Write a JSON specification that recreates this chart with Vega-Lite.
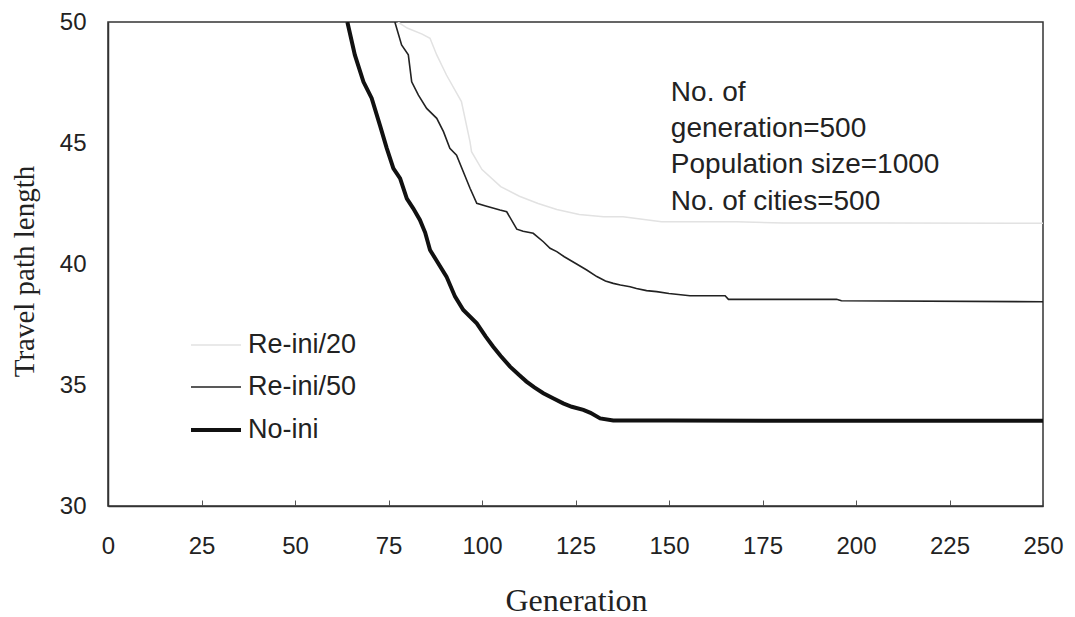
{
  "$schema": "https://vega.github.io/schema/vega-lite/v6.json",
  "width": 935,
  "height": 484,
  "autosize": "none",
  "padding": {"left": 108, "top": 22, "right": 32, "bottom": 111},
  "background": "#ffffff",
  "config": {
    "view": {"stroke": "#333333", "strokeWidth": 1.5},
    "font": "Liberation Sans",
    "axis": {"domainColor": "#333333", "domainWidth": 1.5, "grid": false, "labelColor": "#222222", "labelFont": "Liberation Sans", "titleColor": "#222222", "titleFontWeight": "normal"},
    "legend": {
      "padding": 0, "title": null, "orient": "none", "legendX": 81, "legendY": 297,
      "symbolType": "stroke", "symbolSize": 2500, "rowPadding": 3,
      "labelFont": "Liberation Sans", "labelFontSize": 27, "labelColor": "#222222", "labelOffset": 5
    }
  },
  "datasets": {
    "curves": [
      {"series": "Re-ini/20", "gen": 77.5, "len": 50.0},
      {"series": "Re-ini/20", "gen": 80.0, "len": 49.75},
      {"series": "Re-ini/20", "gen": 84.0, "len": 49.5},
      {"series": "Re-ini/20", "gen": 86.1, "len": 49.33},
      {"series": "Re-ini/20", "gen": 87.9, "len": 48.64},
      {"series": "Re-ini/20", "gen": 90.5, "len": 47.81},
      {"series": "Re-ini/20", "gen": 94.5, "len": 46.71},
      {"series": "Re-ini/20", "gen": 96.8, "len": 45.05},
      {"series": "Re-ini/20", "gen": 97.2, "len": 44.64},
      {"series": "Re-ini/20", "gen": 100.0, "len": 43.9},
      {"series": "Re-ini/20", "gen": 105.0, "len": 43.2},
      {"series": "Re-ini/20", "gen": 110.0, "len": 42.8},
      {"series": "Re-ini/20", "gen": 115.0, "len": 42.5},
      {"series": "Re-ini/20", "gen": 120.0, "len": 42.25},
      {"series": "Re-ini/20", "gen": 126.0, "len": 42.05},
      {"series": "Re-ini/20", "gen": 132.5, "len": 41.95},
      {"series": "Re-ini/20", "gen": 137.7, "len": 41.95},
      {"series": "Re-ini/20", "gen": 148.0, "len": 41.75},
      {"series": "Re-ini/20", "gen": 168.0, "len": 41.75},
      {"series": "Re-ini/20", "gen": 180.5, "len": 41.69},
      {"series": "Re-ini/20", "gen": 207.0, "len": 41.69},
      {"series": "Re-ini/20", "gen": 250.0, "len": 41.68},

      {"series": "Re-ini/50", "gen": 76.7, "len": 50.0},
      {"series": "Re-ini/50", "gen": 78.5, "len": 49.05},
      {"series": "Re-ini/50", "gen": 80.3, "len": 48.64},
      {"series": "Re-ini/50", "gen": 81.2, "len": 47.53},
      {"series": "Re-ini/50", "gen": 83.0, "len": 46.98},
      {"series": "Re-ini/50", "gen": 85.2, "len": 46.43},
      {"series": "Re-ini/50", "gen": 87.9, "len": 46.02},
      {"series": "Re-ini/50", "gen": 89.7, "len": 45.47},
      {"series": "Re-ini/50", "gen": 91.4, "len": 44.78},
      {"series": "Re-ini/50", "gen": 93.2, "len": 44.5},
      {"series": "Re-ini/50", "gen": 95.0, "len": 43.81},
      {"series": "Re-ini/50", "gen": 96.8, "len": 43.13},
      {"series": "Re-ini/50", "gen": 98.6, "len": 42.51},
      {"series": "Re-ini/50", "gen": 101.0, "len": 42.4},
      {"series": "Re-ini/50", "gen": 104.8, "len": 42.23},
      {"series": "Re-ini/50", "gen": 106.6, "len": 42.16},
      {"series": "Re-ini/50", "gen": 109.3, "len": 41.44},
      {"series": "Re-ini/50", "gen": 111.0, "len": 41.35},
      {"series": "Re-ini/50", "gen": 113.7, "len": 41.27},
      {"series": "Re-ini/50", "gen": 116.4, "len": 40.92},
      {"series": "Re-ini/50", "gen": 118.2, "len": 40.65},
      {"series": "Re-ini/50", "gen": 120.0, "len": 40.51},
      {"series": "Re-ini/50", "gen": 122.0, "len": 40.3},
      {"series": "Re-ini/50", "gen": 125.3, "len": 40.0},
      {"series": "Re-ini/50", "gen": 128.0, "len": 39.75},
      {"series": "Re-ini/50", "gen": 130.7, "len": 39.48},
      {"series": "Re-ini/50", "gen": 133.0, "len": 39.3},
      {"series": "Re-ini/50", "gen": 135.1, "len": 39.2},
      {"series": "Re-ini/50", "gen": 137.0, "len": 39.13},
      {"series": "Re-ini/50", "gen": 139.6, "len": 39.06},
      {"series": "Re-ini/50", "gen": 141.3, "len": 38.99},
      {"series": "Re-ini/50", "gen": 144.0, "len": 38.9},
      {"series": "Re-ini/50", "gen": 146.7, "len": 38.86},
      {"series": "Re-ini/50", "gen": 150.0, "len": 38.78},
      {"series": "Re-ini/50", "gen": 155.6, "len": 38.69},
      {"series": "Re-ini/50", "gen": 165.0, "len": 38.69},
      {"series": "Re-ini/50", "gen": 165.9, "len": 38.54},
      {"series": "Re-ini/50", "gen": 194.8, "len": 38.54},
      {"series": "Re-ini/50", "gen": 196.1, "len": 38.48},
      {"series": "Re-ini/50", "gen": 250.0, "len": 38.44},

      {"series": "No-ini", "gen": 64.0, "len": 50.0},
      {"series": "No-ini", "gen": 66.0, "len": 48.64},
      {"series": "No-ini", "gen": 68.3, "len": 47.53},
      {"series": "No-ini", "gen": 70.5, "len": 46.85},
      {"series": "No-ini", "gen": 72.7, "len": 45.74},
      {"series": "No-ini", "gen": 74.5, "len": 44.8},
      {"series": "No-ini", "gen": 76.3, "len": 43.95},
      {"series": "No-ini", "gen": 78.1, "len": 43.54},
      {"series": "No-ini", "gen": 79.9, "len": 42.7},
      {"series": "No-ini", "gen": 81.6, "len": 42.3},
      {"series": "No-ini", "gen": 83.4, "len": 41.82},
      {"series": "No-ini", "gen": 84.8, "len": 41.3},
      {"series": "No-ini", "gen": 86.1, "len": 40.58},
      {"series": "No-ini", "gen": 88.0, "len": 40.1},
      {"series": "No-ini", "gen": 90.5, "len": 39.48},
      {"series": "No-ini", "gen": 92.8, "len": 38.65},
      {"series": "No-ini", "gen": 95.0, "len": 38.1},
      {"series": "No-ini", "gen": 98.6, "len": 37.55},
      {"series": "No-ini", "gen": 101.0, "len": 37.0},
      {"series": "No-ini", "gen": 103.0, "len": 36.58},
      {"series": "No-ini", "gen": 105.0, "len": 36.2},
      {"series": "No-ini", "gen": 107.5, "len": 35.76},
      {"series": "No-ini", "gen": 110.0, "len": 35.4},
      {"series": "No-ini", "gen": 111.9, "len": 35.14},
      {"series": "No-ini", "gen": 114.0, "len": 34.9},
      {"series": "No-ini", "gen": 116.4, "len": 34.66},
      {"series": "No-ini", "gen": 119.0, "len": 34.45},
      {"series": "No-ini", "gen": 121.7, "len": 34.24},
      {"series": "No-ini", "gen": 124.0, "len": 34.1},
      {"series": "No-ini", "gen": 127.1, "len": 33.97},
      {"series": "No-ini", "gen": 129.0, "len": 33.85},
      {"series": "No-ini", "gen": 131.6, "len": 33.62},
      {"series": "No-ini", "gen": 135.1, "len": 33.53},
      {"series": "No-ini", "gen": 150.0, "len": 33.53},
      {"series": "No-ini", "gen": 200.0, "len": 33.52},
      {"series": "No-ini", "gen": 250.0, "len": 33.52}
    ],
    "note": [
      {"gen": 150.5, "len": 46.74, "label": ["No. of", "generation=500", "Population size=1000", "No. of cities=500"]}
    ]
  },
  "encoding": {
    "x": {
      "field": "gen", "type": "quantitative",
      "scale": {"domain": [0, 250], "nice": false, "zero": false},
      "axis": {
        "title": "Generation", "values": [0, 25, 50, 75, 100, 125, 150, 175, 200, 225, 250],
        "labelFontSize": 24, "labelPadding": 34, "labelFlush": false, "ticks": true, "tickSize": -6, "tickColor": "#555555",
        "titleFont": "Liberation Serif", "titleFontSize": 32, "titleX": 468, "titleY": 104,
        "titleBaseline": "alphabetic", "titleAlign": "center"
      }
    },
    "y": {
      "field": "len", "type": "quantitative",
      "scale": {"domain": [30, 50], "nice": false, "zero": false},
      "axis": {
        "title": "Travel path length", "values": [30, 35, 40, 45, 50],
        "labelFontSize": 24, "labelPadding": 22, "ticks": false,
        "titleFont": "Liberation Serif", "titleFontSize": 29, "titleAngle": -90,
        "titleX": -75, "titleY": 249, "titleBaseline": "alphabetic", "titleAlign": "center"
      }
    }
  },
  "layer": [
    {
      "data": {"name": "curves"},
      "mark": {"type": "line", "clip": true},
      "encoding": {
        "color": {
          "field": "series", "type": "nominal",
          "scale": {"domain": ["Re-ini/20", "Re-ini/50", "No-ini"], "range": ["#e2e2e2", "#222222", "#111111"]}
        },
        "strokeWidth": {
          "field": "series", "type": "nominal",
          "scale": {"type": "ordinal", "domain": ["Re-ini/20", "Re-ini/50", "No-ini"], "range": [1.5, 1.6, 4]}
        },
        "order": {"field": "gen", "type": "quantitative"}
      }
    },
    {
      "data": {"name": "note"},
      "mark": {"type": "text", "align": "left", "baseline": "alphabetic", "font": "Liberation Sans", "fontSize": 28, "lineHeight": 36.3, "color": "#222222"},
      "encoding": {
        "text": {"field": "label"}
      }
    }
  ]
}
